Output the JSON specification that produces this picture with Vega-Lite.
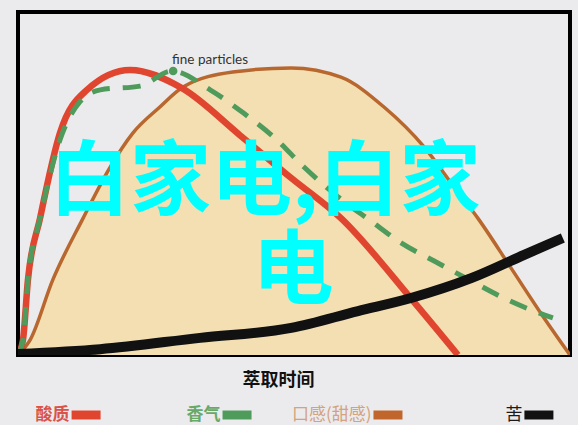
{
  "$schema": "https://vega.github.io/schema/vega-lite/v6.json",
  "background": "#ebebed",
  "padding": {"left": 16, "top": 10, "right": 0, "bottom": 0},
  "config": {"view": {"stroke": null}, "font": "Noto Sans CJK SC"},
  "datasets": {
    "curves": [
      {"series": "酸质", "time": 0, "value": 0},
      {"series": "酸质", "time": 0.9, "value": 4.4},
      {"series": "酸质", "time": 1.8, "value": 21.9},
      {"series": "酸质", "time": 4.0, "value": 39.9},
      {"series": "酸质", "time": 7.6, "value": 64.7},
      {"series": "酸质", "time": 12.5, "value": 77.3},
      {"series": "酸质", "time": 20.3, "value": 83.1},
      {"series": "酸质", "time": 29.7, "value": 77.8},
      {"series": "酸质", "time": 40.2, "value": 64.1},
      {"series": "酸质", "time": 49.5, "value": 51.6},
      {"series": "酸质", "time": 58.5, "value": 39.9},
      {"series": "酸质", "time": 71.6, "value": 15.7},
      {"series": "酸质", "time": 79.7, "value": 0},
      {"series": "香气", "time": 0, "value": 0},
      {"series": "香气", "time": 0.9, "value": 4.4},
      {"series": "香气", "time": 1.8, "value": 21.9},
      {"series": "香气", "time": 4.0, "value": 39.9},
      {"series": "香气", "time": 7.6, "value": 62.7},
      {"series": "香气", "time": 11.2, "value": 73.8},
      {"series": "香气", "time": 14.9, "value": 77.3},
      {"series": "香气", "time": 22.1, "value": 78.4},
      {"series": "香气", "time": 27.9, "value": 82.8},
      {"series": "香气", "time": 34.8, "value": 77.3},
      {"series": "香气", "time": 40.8, "value": 70.6},
      {"series": "香气", "time": 46.9, "value": 62.7},
      {"series": "香气", "time": 51.8, "value": 54.8},
      {"series": "香气", "time": 58.0, "value": 46.1},
      {"series": "香气", "time": 63.9, "value": 39.1},
      {"series": "香气", "time": 69.4, "value": 32.7},
      {"series": "香气", "time": 75.4, "value": 27.4},
      {"series": "香气", "time": 82.1, "value": 21.6},
      {"series": "香气", "time": 88.0, "value": 16.6},
      {"series": "香气", "time": 95.3, "value": 11.7},
      {"series": "香气", "time": 96.9, "value": 10.8},
      {"series": "口感(甜感)", "time": 0, "value": 0},
      {"series": "口感(甜感)", "time": 2.2, "value": 4.4},
      {"series": "口感(甜感)", "time": 6.3, "value": 21.9},
      {"series": "口感(甜感)", "time": 11.8, "value": 39.9},
      {"series": "口感(甜感)", "time": 16.7, "value": 54.8},
      {"series": "口感(甜感)", "time": 20.8, "value": 64.7},
      {"series": "口感(甜感)", "time": 25.7, "value": 72.3},
      {"series": "口感(甜感)", "time": 29.9, "value": 78.1},
      {"series": "口感(甜感)", "time": 38.9, "value": 82.5},
      {"series": "口感(甜感)", "time": 49.5, "value": 83.7},
      {"series": "口感(甜感)", "time": 58.5, "value": 81.0},
      {"series": "口感(甜感)", "time": 66.3, "value": 72.3},
      {"series": "口感(甜感)", "time": 73.6, "value": 60.6},
      {"series": "口感(甜感)", "time": 79.0, "value": 49.0},
      {"series": "口感(甜感)", "time": 83.3, "value": 39.9},
      {"series": "口感(甜感)", "time": 89.3, "value": 25.4},
      {"series": "口感(甜感)", "time": 95.3, "value": 10.8},
      {"series": "口感(甜感)", "time": 100, "value": 0},
      {"series": "苦", "time": 0, "value": 0.3},
      {"series": "苦", "time": 14.9, "value": 1.7},
      {"series": "苦", "time": 33.0, "value": 5.0},
      {"series": "苦", "time": 49.5, "value": 7.9},
      {"series": "苦", "time": 61.6, "value": 12.8},
      {"series": "苦", "time": 71.2, "value": 16.6},
      {"series": "苦", "time": 82.1, "value": 22.4},
      {"series": "苦", "time": 91.7, "value": 29.2},
      {"series": "苦", "time": 98.7, "value": 34.1}
    ],
    "notes": [
      {"label": "fine particles", "time": 28.1, "value": 82.8}
    ],
    "watermark": [
      {"text": "白家电,白家", "time": 44.7, "value": 49.8},
      {"text": "电", "time": 49.8, "value": 24.0}
    ],
    "legend": [
      {"series": "酸质"},
      {"series": "香气"},
      {"series": "口感(甜感)"},
      {"series": "苦"}
    ]
  },
  "spacing": 14,
  "vconcat": [
    {
      "width": 552,
      "height": 343,
      "view": {"stroke": "#000", "strokeWidth": 4},
      "encoding": {
        "x": {
          "field": "time",
          "type": "quantitative",
          "scale": {"domain": [0, 100], "nice": false},
          "axis": {
            "title": "萃取时间",
            "labels": false,
            "ticks": false,
            "domain": false,
            "grid": false,
            "titleFontSize": 18,
            "titleFontWeight": "bold",
            "titleColor": "#111",
            "titlePadding": 16,
            "titleX": 260
          }
        },
        "y": {
          "field": "value",
          "type": "quantitative",
          "scale": {"domain": [0, 100], "nice": false},
          "axis": null
        }
      },
      "layer": [
        {
          "data": {"name": "curves"},
          "transform": [{"filter": "datum.series === '口感(甜感)'"}],
          "mark": {"type": "area", "interpolate": "monotone", "clip": true, "color": "#f4dfb2"}
        },
        {
          "data": {"name": "curves"},
          "transform": [{"filter": "datum.series === '口感(甜感)'"}],
          "mark": {"type": "line", "interpolate": "monotone", "clip": true, "color": "#b8672e", "strokeWidth": 3.5}
        },
        {
          "data": {"name": "curves"},
          "transform": [{"filter": "datum.series === '酸质'"}],
          "mark": {"type": "line", "interpolate": "monotone", "clip": true, "color": "#e0452f", "strokeWidth": 6.5}
        },
        {
          "data": {"name": "curves"},
          "transform": [{"filter": "datum.series === '香气'"}],
          "mark": {"type": "line", "interpolate": "monotone", "clip": true, "color": "#4f9b5c", "strokeWidth": 5, "strokeDash": [18, 13]}
        },
        {
          "data": {"name": "curves"},
          "transform": [{"filter": "datum.series === '苦'"}],
          "mark": {"type": "line", "interpolate": "monotone", "clip": true, "color": "#111", "strokeWidth": 10}
        },
        {
          "data": {"name": "notes"},
          "mark": {"type": "point", "filled": true, "opacity": 1, "size": 75, "color": "#4f9b5c"}
        },
        {
          "data": {"name": "notes"},
          "mark": {"type": "text", "align": "left", "baseline": "middle", "dx": -1, "dy": -11, "font": "Lato", "fontSize": 13.5, "color": "#333"},
          "encoding": {"text": {"field": "label"}}
        },
        {
          "data": {"name": "watermark"},
          "mark": {"type": "text", "align": "center", "baseline": "middle", "fontSize": 81, "fontWeight": "bold", "color": "#00ffff"},
          "encoding": {"text": {"field": "text"}}
        }
      ]
    },
    {
      "width": 560,
      "height": 20,
      "data": {"name": "legend"},
      "encoding": {
        "x": {
          "field": "series",
          "type": "nominal",
          "scale": {"type": "point", "padding": 0.355, "domain": ["酸质", "香气", "口感(甜感)", "苦"]},
          "axis": null
        }
      },
      "layer": [
        {
          "transform": [{"filter": "datum.series === '酸质' || datum.series === '香气'"}],
          "mark": {"type": "text", "align": "right", "baseline": "middle", "dx": -2, "fontSize": 17, "fontWeight": "bold"},
          "encoding": {
            "text": {"field": "series"},
            "color": {
              "field": "series",
              "scale": {"domain": ["酸质", "香气", "口感(甜感)", "苦"], "range": ["#d9534a", "#68a868", "#d4a27f", "#1a1a1a"]},
              "legend": null
            }
          }
        },
        {
          "transform": [{"filter": "datum.series === '口感(甜感)' || datum.series === '苦'"}],
          "mark": {"type": "text", "align": "right", "baseline": "middle", "dx": -2, "fontSize": 17},
          "encoding": {
            "text": {"field": "series"},
            "color": {
              "field": "series",
              "scale": {"domain": ["酸质", "香气", "口感(甜感)", "苦"], "range": ["#d9534a", "#68a868", "#d4a27f", "#1a1a1a"]},
              "legend": null
            }
          }
        },
        {
          "mark": {"type": "point", "shape": "M0,-0.155H1V0.155H0Z", "size": 3364, "filled": true, "opacity": 1, "strokeWidth": 0},
          "encoding": {
            "fill": {
              "field": "series",
              "scale": {"domain": ["酸质", "香气", "口感(甜感)", "苦"], "range": ["#e0452f", "#4f9b5c", "#c0652c", "#111111"]},
              "legend": null
            }
          }
        }
      ]
    }
  ]
}
